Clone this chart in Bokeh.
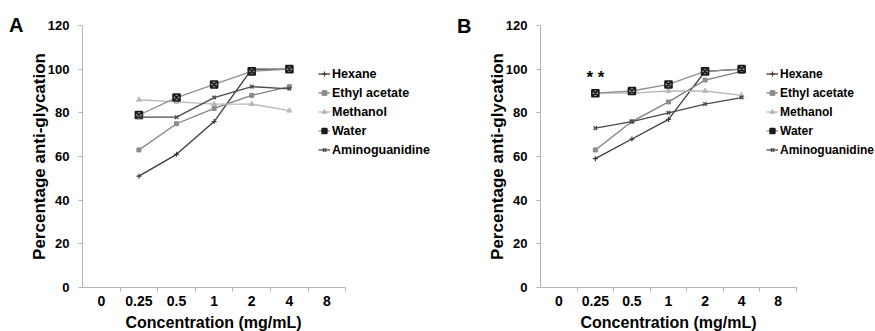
from bokeh.plotting import figure
from bokeh.models import Range1d, FixedTicker, Legend, LegendItem, Label, Div
from bokeh.layouts import row, column
from bokeh.core.properties import value
from bokeh.embed import file_html
from bokeh.resources import INLINE

# ---------------- data ----------------
conc_labels = ["0", "0.25", "0.5", "1", "2", "4", "8"]
data_conc = ["0.25", "0.5", "1", "2", "4"]
series_names = ["Hexane", "Ethyl acetate", "Methanol", "Water", "Aminoguanidine"]
y_ticks = [0, 20, 40, 60, 80, 100, 120]
x_title = "Concentration (mg/mL)"
y_title = "Percentage anti-glycation"
panel_letters = ["A", "B"]

# Panel A
hexane_a = [51, 61, 76, 100, 100]
ethyl_a = [63, 75, 82, 88, 92]
methanol_a = [86, 85, 84, 84, 81]
water_a = [79, 87, 93, 99, 100]
amino_a = [78, 78, 87, 92, 91]

# Panel B
hexane_b = [59, 68, 77, 99, 100]
ethyl_b = [63, 76, 85, 95, 99]
methanol_b = [89, 89, 90, 90, 88]
water_b = [89, 90, 93, 99, 100]
amino_b = [73, 76, 80, 84, 87]

annot_b_text = "* *"
annot_b_conc = "0.25"
annot_b_y = 96

FONT = "Liberation Sans"
AXIS_GRAY = "#b3b3b3"
W = 875
H_MAIN = 313
H_STRIP = 18

styles = {
    "Hexane": dict(line="#3a3a3a", marker="cross", size=5, mfill="#3a3a3a", mline="#3a3a3a", mw=1.2),
    "Ethyl acetate": dict(line="#808080", marker="square", size=4, mfill="#8c8c8c", mline="#8c8c8c", mw=1.0),
    "Methanol": dict(line="#b8b8b8", marker="triangle", size=5, mfill="#b8b8b8", mline="#b8b8b8", mw=1.0),
    "Water": dict(line="#8f8f8f", marker="square_x", size=7, mfill="#9a9a9a", mline="#1a1a1a", mw=1.6),
    "Aminoguanidine": dict(line="#4a4a4a", marker="x", size=5, mfill="#4a4a4a", mline="#4a4a4a", mw=1.4),
}


def blank_fig(width, height):
    f = figure(width=width, height=height, x_range=Range1d(0, width), y_range=Range1d(0, height),
               title=None, output_backend="svg", toolbar_location=None,
               x_axis_type=None, y_axis_type=None,
               min_border_left=0, min_border_right=0, min_border_top=0, min_border_bottom=0)
    f.outline_line_color = None
    f.grid.visible = False
    f.background_fill_color = "white"
    f.border_fill_color = "white"
    return f


def letter_div(letter, width, pad_left, pad_top):
    html = ('<div style="font-family:\'%s\';font-size:20px;font-weight:bold;line-height:20px;'
            'color:black;margin:0;padding:%dpx 0 0 %dpx;">%s</div>') % (FONT, pad_top, pad_left, letter)
    return Div(text=html, width=width, height=H_MAIN, margin=0)


def make_panel(values, width, left, bottom, px_per_cat, legend_loc, legend_font, annot=None):
    n = len(conc_labels)
    frame_w = width - left
    x_end = frame_w / px_per_cat
    p = figure(width=width, height=H_MAIN, x_range=Range1d(0, x_end), y_range=Range1d(0, 120),
               output_backend="svg", toolbar_location=None,
               min_border_left=left, min_border_right=0,
               min_border_top=25, min_border_bottom=bottom)
    p.outline_line_color = None
    p.xgrid.visible = False
    p.ygrid.visible = False
    p.background_fill_color = "white"
    p.border_fill_color = "white"

    # y axis
    ya = p.yaxis[0]
    ya.ticker = FixedTicker(ticks=y_ticks, minor_ticks=[])
    ya.axis_label = y_title
    ya.axis_label_text_font = FONT
    ya.axis_label_text_font_size = "17px"
    ya.axis_label_text_font_style = "bold"
    ya.axis_label_text_color = "black"
    ya.axis_label_standoff = -4
    ya.major_label_text_font = FONT
    ya.major_label_text_font_size = "13px"
    ya.major_label_text_font_style = "bold"
    ya.major_label_text_color = "black"
    ya.major_label_standoff = 9
    ya.major_tick_out = 4
    ya.major_tick_in = 0
    ya.minor_tick_line_color = None
    ya.axis_line_color = AXIS_GRAY
    ya.major_tick_line_color = AXIS_GRAY

    # x axis (category-like, limited to the categories)
    xa = p.xaxis[0]
    centers = [i + 0.5 for i in range(n)]
    xa.bounds = (0, n)
    xa.ticker = FixedTicker(ticks=centers, minor_ticks=list(range(1, n + 1)))
    xa.major_label_overrides = {c: lab for c, lab in zip(centers, conc_labels)}
    xa.major_tick_line_color = None
    xa.major_tick_out = 0
    xa.major_tick_in = 0
    xa.minor_tick_out = 4
    xa.minor_tick_in = 0
    xa.minor_tick_line_color = AXIS_GRAY
    xa.axis_line_color = AXIS_GRAY
    xa.major_label_text_font = FONT
    xa.major_label_text_font_size = "14px"
    xa.major_label_text_font_style = "bold"
    xa.major_label_text_color = "black"
    xa.major_label_standoff = 4

    xs = [conc_labels.index(c) + 0.5 for c in data_conc]
    items = []
    for name, ys in zip(series_names, values):
        st = styles[name]
        ln = p.line(xs, ys, line_color=st["line"], line_width=1.3)
        sc = p.scatter(xs, ys, marker=st["marker"], size=st["size"], fill_color=st["mfill"],
                       line_color=st["mline"], line_width=st["mw"])
        items.append(LegendItem(label=name, renderers=[ln, sc]))

    legend = Legend(items=items, location=legend_loc,
                    label_text_font=FONT, label_text_font_size=legend_font,
                    label_text_font_style="bold", label_text_color="black",
                    glyph_width=12, glyph_height=15, label_height=15, spacing=4,
                    padding=0, margin=0, label_standoff=2,
                    border_line_color=None, background_fill_alpha=0)
    p.add_layout(legend)

    if annot is not None:
        txt, conc, yv = annot
        p.add_layout(Label(x=conc_labels.index(conc) + 0.5, y=yv, x_units="data", y_units="data",
                           text=txt, text_align="center", text_baseline="middle",
                           text_font=FONT, text_font_size="17px", text_font_style="bold",
                           text_color="black"))
    return p


# geometry (pixels)
LETTER_W = 26
A_W, A_LEFT, A_PX = 424, 55, 264 / 7
B_W, B_LEFT, B_PX = 399, 64, 256 / 7
FRAME_BOTTOM = 287

dA = letter_div(panel_letters[0], LETTER_W, 9, 15)
pA = make_panel([hexane_a, ethyl_a, methanol_a, water_a, amino_a],
                width=A_W, left=A_LEFT, bottom=H_MAIN - FRAME_BOTTOM, px_per_cat=A_PX,
                legend_loc=(236, 130), legend_font="12.5px")
dB = letter_div(panel_letters[1], LETTER_W, 7, 16)
pB = make_panel([hexane_b, ethyl_b, methanol_b, water_b, amino_b],
                width=B_W, left=B_LEFT, bottom=H_MAIN - FRAME_BOTTOM, px_per_cat=B_PX,
                legend_loc=(226, 130), legend_font="12px",
                annot=(annot_b_text, annot_b_conc, annot_b_y))

# x-axis titles, centred under each panel's category span
n_cat = len(conc_labels)
a_frame_left = LETTER_W + A_LEFT
b_frame_left = LETTER_W + A_W + LETTER_W + B_LEFT
centers_x = [a_frame_left + n_cat * A_PX / 2, b_frame_left + n_cat * B_PX / 2]
strip = blank_fig(W, H_STRIP)
strip.text(x=centers_x, y=[H_STRIP / 2] * 2, text=[x_title] * 2, text_align="center",
           text_baseline="middle", text_font=value(FONT), text_font_size="16px",
           text_font_style="bold", text_color="black")

layout = column(row(dA, pA, dB, pB), strip)
open("out.html", "w").write(file_html(layout, INLINE))
